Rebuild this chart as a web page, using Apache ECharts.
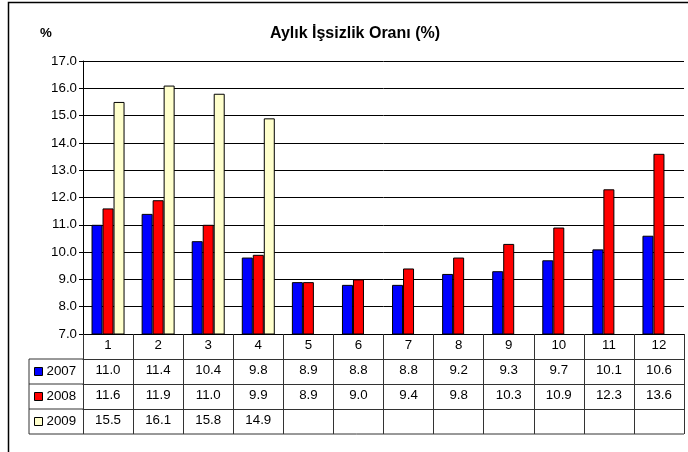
<!DOCTYPE html>
<html>
<head>
<meta charset="utf-8">
<script src="https://cdn.jsdelivr.net/npm/echarts@6/dist/echarts.min.js"></script>
<style>
  html, body { margin: 0; padding: 0; background: #fff; }
  #chart { width: 688px; height: 452px; }
</style>
</head>
<body>
<div id="chart"></div>
<script>
  // months shown on the category row
  var months = ['1', '2', '3', '4', '5', '6', '7', '8', '9', '10', '11', '12'];
  var rate2007 = [11.0, 11.4, 10.4, 9.8, 8.9, 8.8, 8.8, 9.2, 9.3, 9.7, 10.1, 10.6];
  var rate2008 = [11.6, 11.9, 11.0, 9.9, 8.9, 9.0, 9.4, 9.8, 10.3, 10.9, 12.3, 13.6];
  var rate2009 = [15.5, 16.1, 15.8, 14.9, null, null, null, null, null, null, null, null];
  var yearNames = ['2007', '2008', '2009'];

  var font = 'Liberation Sans, Arial, sans-serif';
  var bodySize = 13.3;
  var lineCol = '#333';

  function fmt(v) {
    return v == null ? '' : v.toFixed(1);
  }

  // one extra category axis per table row, stacked under the plot
  function rowAxis(values, offset) {
    return {
      type: 'category',
      data: months,
      position: 'bottom',
      offset: offset,
      axisLine: { show: true, lineStyle: { color: lineCol, width: 1 } },
      axisTick: { show: true, length: 25, interval: 0, lineStyle: { color: lineCol } },
      axisLabel: {
        interval: 0, margin: 5, color: '#000', fontFamily: font, fontSize: bodySize,
        formatter: function (v, i) { return fmt(values[i]); }
      }
    };
  }

  var chart = echarts.init(document.getElementById('chart'));
  var option = {
    backgroundColor: '#fff',
    animation: false,
    title: {
      text: 'Aylık İşsizlik Oranı (%)',
      left: 350,
      top: 21,
      textAlign: 'center',
      textStyle: { fontFamily: font, fontSize: 16, fontWeight: 'bold', color: '#000' }
    },
    legend: {
      orient: 'vertical',
      left: 34,
      top: 364,
      padding: 0,
      itemGap: 10,
      itemWidth: 8,
      itemHeight: 8,
      icon: 'rect',
      data: yearNames,
      itemStyle: { borderColor: '#000', borderWidth: 1 },
      textStyle: { fontFamily: font, fontSize: bodySize, color: '#000', lineHeight: 15, padding: [0, 0, 0, -1] }
    },
    grid: { left: 83, right: 4, top: 61, bottom: 118 },
    xAxis: [
      {
        type: 'category',
        data: months,
        position: 'bottom',
        axisLine: { show: true, lineStyle: { color: '#000', width: 1 } },
        axisTick: { show: true, length: 25, interval: 0, lineStyle: { color: lineCol } },
        axisLabel: { interval: 0, margin: 5, color: '#000', fontFamily: font, fontSize: bodySize }
      },
      rowAxis(rate2007, 25),
      rowAxis(rate2008, 50),
      rowAxis(rate2009, 75)
    ],
    yAxis: {
      type: 'value',
      min: 7,
      max: 17,
      interval: 1,
      axisLine: { show: true, lineStyle: { color: '#000' } },
      axisTick: { show: true, length: 4, lineStyle: { color: '#000' } },
      axisLabel: {
        margin: 6, color: '#000', fontFamily: font, fontSize: bodySize,
        formatter: function (v) { return v.toFixed(1); }
      },
      splitLine: { show: true, lineStyle: { color: '#000', width: 1 } }
    },
    series: [
      {
        name: yearNames[0], type: 'bar', data: rate2007, barWidth: 11, barGap: '0%',
        itemStyle: { color: '#0000ff', borderColor: '#000', borderWidth: 1 }
      },
      {
        name: yearNames[1], type: 'bar', data: rate2008, barWidth: 11, barGap: '0%',
        itemStyle: { color: '#ff0000', borderColor: '#000', borderWidth: 1 }
      },
      {
        name: yearNames[2], type: 'bar', data: rate2009, barWidth: 11, barGap: '0%',
        itemStyle: { color: '#ffffcc', borderColor: '#000', borderWidth: 1 }
      }
    ],
    graphic: [
      // outer chart frame
      { type: 'rect', shape: { x: 8.5, y: 2.5, width: 700, height: 480 },
        style: { fill: null, stroke: '#000', lineWidth: 1.5 }, silent: true },
      { type: 'text', left: 40, top: 27,
        style: { text: '%', font: 'bold ' + bodySize + 'px ' + font, fill: '#000' } },
      // legend column of the data table
      { type: 'line', shape: { x1: 29, y1: 359, x2: 83, y2: 359 }, style: { stroke: lineCol } },
      { type: 'line', shape: { x1: 29, y1: 384, x2: 83, y2: 384 }, style: { stroke: lineCol } },
      { type: 'line', shape: { x1: 29, y1: 409, x2: 83, y2: 409 }, style: { stroke: lineCol } },
      { type: 'line', shape: { x1: 29, y1: 434, x2: 684, y2: 434 }, style: { stroke: lineCol } },
      { type: 'line', shape: { x1: 29, y1: 359, x2: 29, y2: 434 }, style: { stroke: lineCol } }
    ]
  };
  chart.setOption(option);
  window.addEventListener('resize', chart.resize);
</script>
</body>
</html>
